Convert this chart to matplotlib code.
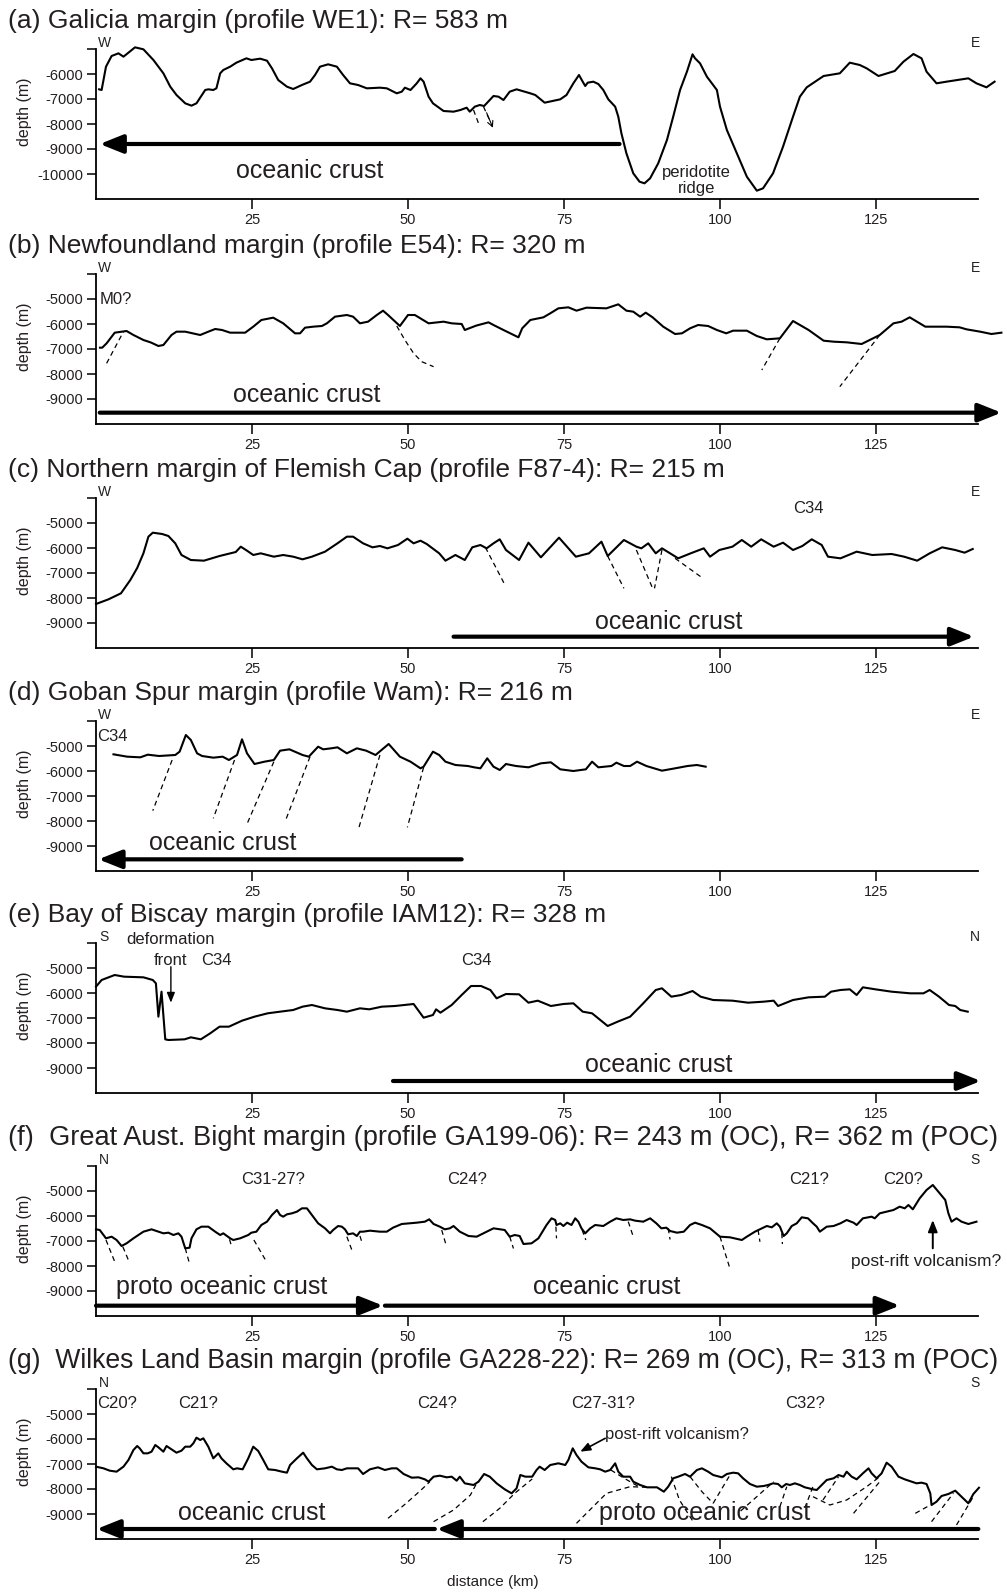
import matplotlib
matplotlib.use("Agg")
from matplotlib import pyplot as plt

plt.rcParams['font.family'] = ['Liberation Sans', 'DejaVu Sans']

# figure is laid out in pixels (1007 x 1593), 6.24 px per km, 25 px per 1000 m
W, H = 1007, 1593
PX_KM = 6.24
KM_MAX = 146.0
AXIS_END = 141.3
LEFT_PX = 96

xticks = [25, 50, 75, 100, 125]

# ---------------- profile data (distance km, depth m) ----------------
prof_a = [(0.5, -6613), (0.9, -6640), (1.6, -5707), (2.5, -5280), (3.6, -5173), (4.4, -5307), (5.2, -5147),
          (6.25, -4933), (7.6, -5013), (9.2, -5440), (10.8, -5973), (11.9, -6507), (12.9, -6840), (14.3, -7173),
          (15.3, -7267), (16.1, -7173), (17.5, -6640), (18, -6613), (18.8, -6640), (19.3, -6570), (19.9, -5973),
          (20.4, -5840), (21.5, -5707), (22.5, -5547), (24.1, -5373), (24.9, -5440), (26.3, -5387), (27.4, -5467),
          (28.2, -5773), (29.2, -6240), (30.6, -6507), (31.6, -6600), (33, -6440), (34.3, -6307), (35.1, -6040),
          (35.9, -5707), (37.2, -5613), (38.6, -5707), (39.6, -6040), (40.7, -6373), (42, -6440), (43.4, -6573),
          (45.5, -6547), (46.6, -6573), (48.2, -6773), (49, -6707), (49.5, -6547), (50.4, -6640), (51.4, -6373),
          (52, -6173), (52.5, -6307), (53.3, -6907), (54, -7173), (55.7, -7480), (57.3, -7507), (58.4, -7440),
          (59.4, -7347), (59.9, -7507), (60.7, -7307), (61.5, -7240), (62.2, -7280), (63.7, -6880), (64.5, -6907),
          (65.3, -7040), (66.3, -6707), (67.4, -6613), (69.6, -6773), (70.4, -6840), (71.9, -7147), (74.4, -7013),
          (75.4, -6840), (76.5, -6373), (77.4, -6040), (78, -6307), (78.4, -6480), (78.8, -6347), (79.7, -6307),
          (80.5, -6400), (81.3, -6640), (82.1, -7013), (83.2, -7307), (83.7, -7707), (84.2, -8373), (85, -9173),
          (86.1, -9973), (87.1, -10307), (87.9, -10373), (88.8, -10173), (90.1, -9573), (91.5, -8640), (92.5, -7707),
          (93.6, -6640), (94.7, -5907), (95.6, -5213), (96, -5373), (96.8, -5573), (97.9, -6107), (99.5, -6640),
          (100, -7307), (101.1, -8240), (102.7, -9173), (104.3, -10107), (105.9, -10667), (106.9, -10573),
          (108.5, -9973), (110.1, -8907), (111.7, -7707), (112.8, -6907), (113.9, -6533), (116.6, -6080),
          (119.2, -5973), (120.8, -5547), (122.4, -5640), (123.5, -5773), (125.4, -6080), (128, -5880),
          (129.4, -5507), (131, -5200), (132.3, -5373), (133.1, -5907), (134.7, -6373), (136.3, -6307),
          (139.8, -6173), (141.1, -6373), (142.7, -6533), (144, -6307)]

prof_b = [(0.64, -6947), (1.0, -6947), (1.7, -6773), (3.0, -6347), (4.9, -6280), (6.0, -6440), (7.6, -6640),
          (8.8, -6740), (10.0, -6880), (10.8, -6840), (12.1, -6440), (12.9, -6307), (14.3, -6307), (16.7, -6440),
          (18.0, -6307), (19.1, -6200), (20.2, -6240), (21.5, -6347), (23.9, -6347), (25.2, -6107), (26.5, -5840),
          (28.4, -5747), (30.0, -5973), (31.9, -6373), (32.7, -6373), (33.5, -6147), (34.8, -6107), (36.2, -6080),
          (37.0, -5973), (38.3, -5707), (40.2, -5640), (41.2, -5707), (42.3, -5973), (43.6, -5907), (45.0, -5640),
          (46.0, -5467), (46.8, -5640), (48.7, -6080), (50.0, -5640), (51.1, -5640), (53.3, -5973), (55.7, -5907),
          (57.0, -5973), (58.6, -6000), (59.1, -6240), (60.9, -6067), (62.9, -5933), (63.7, -6040), (65.3, -6240),
          (67.7, -6533), (68.3, -6173), (69.6, -5840), (71.7, -5733), (72.8, -5573), (74.1, -5373), (75.7, -5333),
          (77.0, -5467), (78.6, -5347), (81.8, -5373), (83.7, -5213), (85.0, -5467), (86.1, -5507), (87.2, -5707),
          (88.1, -5547), (89.2, -5733), (90.9, -6107), (92.8, -6400), (93.9, -6373), (95.2, -6173), (96.5, -6040),
          (98.1, -6080), (99.5, -6240), (101.0, -6373), (102.1, -6267), (104.3, -6267), (105.9, -6480),
          (107.5, -6613), (109.6, -6573), (111.7, -5880), (114.2, -6240), (116.6, -6667), (118.2, -6707),
          (120.3, -6733), (122.7, -6800), (125.6, -6440), (127.8, -5973), (129.1, -5907), (130.4, -5733),
          (132.9, -6107), (136.3, -6107), (138.4, -6133), (139.5, -6213), (141.7, -6307), (143.5, -6400),
          (145.1, -6347)]

prof_c = [(0, -8240), (2, -8053), (4, -7813), (5.5, -7280), (6.6, -6800), (7.6, -6213), (8.4, -5547), (9.1, -5387),
          (10.6, -5440), (11.6, -5520), (12.7, -5813), (13.7, -6280), (15.2, -6480), (17.3, -6507), (19.8, -6320),
          (22.4, -6160), (23.2, -5947), (24.2, -6107), (25.2, -6280), (26.4, -6213), (28.5, -6347), (30.0, -6280),
          (31.6, -6347), (33.1, -6453), (34.6, -6347), (36.7, -6147), (38.7, -5813), (40.2, -5547), (41.2, -5547),
          (42.8, -5813), (44.3, -5973), (45.5, -5920), (46.7, -6013), (48.4, -5880), (49.9, -5627), (50.9, -5813),
          (52.0, -5707), (53.0, -5840), (55.0, -6213), (56.0, -6507), (57.6, -6280), (59.1, -6480), (60.3, -5973),
          (61.6, -5880), (62.6, -6013), (63.7, -5813), (64.7, -5653), (65.7, -6080), (67.8, -6480), (69.3, -5787),
          (71.3, -6373), (74.2, -5587), (76.9, -6347), (79.0, -6213), (81.0, -5747), (82.0, -6320), (84.6, -5680),
          (86.6, -5947), (87.4, -6013), (88.5, -5813), (89.7, -6213), (90.7, -6013), (93.3, -6413), (95.3, -6213),
          (97.4, -6013), (98.4, -6347), (99.9, -6080), (102.0, -5947), (103.5, -5680), (105.0, -5947),
          (106.6, -5653), (108.6, -5947), (110.1, -5787), (111.7, -6080), (113.2, -5920), (114.7, -5653),
          (116.3, -5880), (117.3, -6347), (119.3, -6413), (121.9, -6147), (124.4, -6280), (127.5, -6240),
          (129.5, -6347), (131.6, -6507), (133.6, -6213), (135.6, -5973), (137.7, -6080), (139.2, -6187),
          (140.5, -6040)]

prof_d = [(2.8, -5333), (5.0, -5427), (7.1, -5453), (8.3, -5347), (10.1, -5400), (12.7, -5360), (13.4, -5227),
          (14.4, -4560), (15.2, -4760), (16.2, -5293), (17.0, -5400), (18.8, -5467), (20.3, -5427), (21.3, -5560),
          (22.6, -5360), (23.4, -4733), (24.2, -5293), (25.4, -5720), (27.0, -5627), (28.5, -5560), (29.5, -5187),
          (31.0, -5133), (33.1, -5360), (34.1, -5427), (34.6, -5293), (35.6, -5027), (36.4, -5133), (37.7, -5093),
          (38.7, -5053), (40.2, -5293), (41.8, -5093), (43.3, -5187), (44.8, -5360), (46.9, -4920), (48.7, -5427),
          (50.4, -5627), (52.0, -5893), (52.5, -5827), (54.0, -5227), (55.0, -5360), (56.0, -5627), (57.6, -5760),
          (59.6, -5800), (60.6, -5853), (61.6, -5893), (62.7, -5493), (63.7, -5827), (64.7, -5960), (65.7, -5720),
          (67.3, -5800), (69.3, -5853), (71.3, -5693), (72.9, -5653), (74.4, -5933), (76.5, -6000), (78.5, -5933),
          (79.5, -5627), (80.5, -5853), (82.6, -5800), (83.4, -5667), (84.6, -5800), (85.6, -5800), (86.7, -5627),
          (88.2, -5800), (90.7, -5987), (92.8, -5893), (94.8, -5800), (96.3, -5760), (97.7, -5827)]

prof_e = [(0, -5747), (0.9, -5480), (3.0, -5280), (4.5, -5347), (7.6, -5373), (9.1, -5480), (9.6, -5613),
          (10.0, -6947), (10.5, -5947), (11.1, -7853), (11.6, -7880), (14.2, -7853), (15.2, -7773), (16.8, -7853),
          (18.3, -7613), (19.8, -7347), (21.3, -7347), (23.4, -7107), (25.4, -6947), (27.5, -6813), (29.5, -6747),
          (31.6, -6680), (33.1, -6547), (34.6, -6480), (36.7, -6613), (38.7, -6680), (40.2, -6747), (42.3, -6613),
          (43.8, -6653), (45.8, -6547), (47.9, -6520), (49.4, -6480), (50.9, -6440), (52.5, -6987), (54.0, -6880),
          (54.5, -6653), (55.2, -6787), (57.0, -6480), (58.6, -6080), (60.1, -5720), (61.7, -5720), (63.2, -5880),
          (64.2, -6213), (65.7, -6040), (67.8, -6053), (69.3, -6387), (70.8, -6307), (72.9, -6520), (74.9, -6440),
          (76.5, -6413), (78.0, -6747), (79.5, -6813), (82.0, -7320), (83.6, -7147), (85.6, -6947), (87.7, -6413),
          (89.7, -5880), (90.7, -5813), (92.2, -6147), (93.8, -6080), (95.6, -5920), (96.9, -6147), (98.9, -6280),
          (102.0, -6307), (104.5, -6387), (107.0, -6347), (108.6, -6307), (109.3, -6520), (111.7, -6280),
          (114.2, -6173), (116.8, -6147), (117.8, -5947), (119.3, -5880), (120.8, -5853), (121.9, -6080),
          (122.9, -5773), (124.9, -5853), (127.5, -5947), (130.5, -6013), (132.6, -6013), (133.6, -5880),
          (135.1, -6147), (136.7, -6480), (137.7, -6520), (138.5, -6680), (139.7, -6747)]

prof_f = [(0, -6533), (0.6, -6560), (1.6, -6893), (2.5, -6827), (3.3, -6960), (4.1, -7200), (4.9, -7093),
          (6.0, -6893), (7.6, -6627), (8.9, -6533), (10.0, -6627), (10.8, -6693), (11.6, -6667), (12.4, -6760),
          (13.2, -6693), (13.7, -6827), (14.3, -7293), (15.0, -7267), (15.3, -6893), (16.1, -6533), (16.9, -6427),
          (18.0, -6427), (19.1, -6627), (19.9, -6760), (20.4, -6693), (21.5, -6893), (22.0, -6960), (23.1, -6893),
          (24.4, -6760), (24.9, -6667), (25.7, -6627), (26.5, -6360), (27.4, -6227), (28.2, -5960), (29.0, -5760),
          (29.5, -5960), (30.0, -6027), (30.6, -5933), (31.4, -5893), (32.2, -5827), (33.0, -5693), (33.8, -5693),
          (34.6, -5960), (35.6, -6293), (36.7, -6493), (37.5, -6693), (38.0, -6560), (38.8, -6400), (39.4, -6427),
          (39.9, -6533), (40.4, -6733), (41.2, -6693), (41.8, -6800), (42.3, -6627), (42.8, -6627), (43.9, -6587),
          (45.5, -6627), (46.6, -6627), (47.6, -6467), (49.0, -6320), (51.4, -6267), (52.7, -6227), (53.4, -6133),
          (54.1, -6320), (55.1, -6427), (55.9, -6533), (56.7, -6493), (57.3, -6400), (58.3, -6627), (59.7, -6800),
          (61.0, -6827), (62.6, -6627), (63.7, -6493), (65.5, -6560), (66.3, -6827), (67.1, -6760), (67.9, -6800),
          (68.5, -7120), (69.8, -7093), (70.9, -6893), (72.2, -6360), (73.0, -6093), (73.6, -6160), (73.8, -6360),
          (74.4, -6293), (74.9, -6400), (75.5, -6267), (76.2, -6360), (76.8, -6093), (77.3, -6227), (77.8, -6493),
          (78.4, -6693), (79.2, -6493), (80.0, -6360), (81.3, -6400), (82.4, -6227), (83.4, -6093), (84.5, -6160),
          (85.6, -6133), (86.4, -6187), (87.7, -6227), (88.8, -6093), (89.8, -6293), (90.6, -6493), (91.4, -6467),
          (92.0, -6600), (93.1, -6667), (94.2, -6627), (95.2, -6360), (96.0, -6267), (97.1, -6360), (98.4, -6493),
          (100.0, -6827), (101.6, -6853), (103.5, -6960), (104.3, -6827), (105.6, -6627), (106.7, -6493),
          (107.5, -6400), (108.3, -6453), (109.1, -6293), (109.6, -6427), (110.2, -6800), (110.7, -6693),
          (111.5, -6400), (112.3, -6293), (113.1, -6053), (114.1, -6093), (114.8, -6267), (115.5, -6427),
          (116.0, -6627), (117.1, -6427), (118.2, -6400), (119.3, -6293), (120.3, -6160), (121.4, -6267),
          (121.9, -6360), (122.9, -6093), (124.3, -6027), (124.8, -6093), (125.6, -5893), (126.7, -5827),
          (127.8, -5760), (128.8, -5627), (129.6, -5693), (130.2, -5560), (130.9, -5733), (132.0, -5293),
          (133.1, -4960), (134.1, -4760), (135.0, -5027), (136.1, -5360), (136.6, -5893), (137.1, -6227),
          (137.9, -6093), (138.7, -6227), (139.8, -6320), (141.1, -6227)]

prof_g = [(0, -7107), (1.2, -7173), (2.2, -7267), (3.3, -7307), (4.4, -7107), (5.2, -6840), (6.0, -6440),
          (6.6, -6280), (7.0, -6373), (7.6, -6573), (8.3, -6573), (8.9, -6507), (9.5, -6240), (10.0, -6333),
          (10.8, -6507), (11.3, -6280), (12.1, -6413), (12.9, -6547), (13.7, -6467), (14.3, -6307), (15.1, -6307),
          (15.6, -6173), (16.1, -5947), (16.7, -6040), (17.2, -5973), (18.0, -6307), (18.8, -6773), (19.6, -6573),
          (20.1, -6773), (20.9, -6973), (22.0, -7213), (22.6, -7173), (23.5, -7213), (24.4, -6773), (25.2, -6307),
          (26.0, -6480), (26.8, -6840), (27.6, -7213), (28.7, -7240), (29.8, -7307), (30.6, -7347), (31.1, -7040),
          (32.2, -6773), (33.2, -6547), (33.8, -6773), (34.6, -7040), (35.4, -7213), (36.7, -7173), (37.8, -7107),
          (38.6, -7213), (39.4, -7240), (40.2, -7173), (42.0, -7173), (42.8, -7400), (43.9, -7213), (45.2, -7133),
          (46.3, -7240), (47.4, -7173), (48.2, -7173), (49.3, -7400), (50.6, -7547), (51.7, -7533), (52.7, -7613),
          (53.3, -7707), (54.1, -7507), (55.1, -7467), (56.2, -7533), (57.0, -7507), (57.8, -7667), (58.3, -7507),
          (59.1, -7773), (60.5, -7840), (61.3, -7707), (62.2, -7400), (63.1, -7507), (64.2, -7773), (65.5, -8013),
          (66.6, -8173), (67.4, -7973), (68.0, -7440), (68.8, -7507), (69.9, -7507), (70.6, -7240), (71.1, -7107),
          (71.9, -7240), (72.8, -7040), (74.1, -6973), (75.2, -7040), (75.7, -6840), (76.4, -6373), (77.0, -6640),
          (77.8, -6907), (78.9, -7133), (80.0, -7173), (80.8, -7213), (81.6, -7307), (82.4, -7240), (83.2, -6973),
          (83.7, -7307), (84.5, -7507), (85.6, -7507), (86.1, -7707), (87.2, -7840), (88.3, -7933), (89.9, -7933),
          (91.0, -8107), (91.7, -7907), (92.5, -7573), (93.3, -7507), (94.4, -7400), (95.2, -7507), (96.3, -7240),
          (97.1, -7173), (98.1, -7307), (98.9, -7440), (100.3, -7533), (101.1, -7400), (102.1, -7347),
          (102.9, -7373), (103.7, -7573), (104.8, -7800), (105.9, -7907), (107.0, -7880), (107.7, -7840),
          (108.5, -7773), (109.3, -7800), (109.9, -7933), (110.6, -7800), (111.2, -7840), (112.0, -7773),
          (112.8, -7840), (113.6, -7933), (114.9, -8013), (115.5, -8040), (116.3, -7840), (117.1, -7640),
          (118.2, -7573), (119.0, -7440), (119.8, -7507), (120.3, -7307), (121.1, -7507), (121.9, -7613),
          (122.9, -7373), (123.8, -7173), (124.3, -7373), (125.1, -7573), (125.9, -7373), (126.7, -6947),
          (127.5, -7107), (128.6, -7507), (129.6, -7613), (130.7, -7707), (131.5, -7773), (132.3, -7747),
          (133.1, -7800), (133.7, -8173), (133.9, -8640), (134.7, -8507), (135.5, -8280), (136.6, -8200),
          (137.7, -8067), (138.7, -8307), (139.8, -8573), (140.6, -8200), (141.5, -7950)]

# dashed fault traces (km list, depth list)
faults_a = [([60.5, 61.3], [-7440, -7973]), ([62.1, 63.0], [-7307, -7800])]
faults_b = [([1.7, 4.4], [-7573, -6307]),
            ([48.2, 49.5, 50.9, 52.2, 54.1], [-6080, -6640, -7173, -7507, -7707]),
            ([109.6, 106.7], [-6573, -7840]), ([125.6, 119.2], [-6440, -8507])]
faults_c = [([62.4, 65.4], [-5973, -7413]), ([82.0, 84.6], [-6320, -7613]), ([86.6, 89.2], [-6080, -7613]),
            ([90.7, 89.5], [-6080, -7613]), ([92.8, 96.9], [-6413, -7147])]
faults_d = [([12.2, 9.1], [-5560, -7587]), ([22.2, 18.8], [-5560, -7893]), ([28.5, 24.2], [-5627, -8120]),
            ([34.3, 30.3], [-5427, -8027]), ([45.5, 42.1], [-5360, -8293]), ([52.5, 49.9], [-5853, -8253])]
faults_f = [([1.6, 3.0], [-6960, -7827]), ([4.3, 5.3], [-7230, -7827]), ([14.3, 15.0], [-7290, -7920]),
            ([21.4, 21.7], [-6933, -7200]), ([25.3, 27.1], [-6960, -7733]), ([40.2, 41.0], [-6827, -7360]),
            ([42.3, 42.7], [-6800, -7120]), ([55.4, 56.1], [-6560, -7160]), ([66.3, 66.9], [-6827, -7300]),
            ([73.7, 73.8], [-6427, -6893]), ([77.9, 78.5], [-6560, -6960]), ([85.3, 86.1], [-6227, -6827]),
            ([91.7, 92.0], [-6493, -6940]), ([100.0, 101.5], [-6827, -8027]), ([106.1, 106.4], [-6560, -7030]),
            ([109.9, 110.0], [-6690, -7120])]
faults_g = [([46.8, 49.7, 52.1, 53.5], [-9173, -8573, -8040, -7707]),
            ([54.1, 57.3, 60.0, 61.0], [-9307, -8840, -8240, -7773]),
            ([62.0, 64.7, 67.1, 69.9], [-9307, -8773, -8173, -7600]),
            ([77.0, 81.8, 85.6, 88.3], [-9373, -8173, -7907, -7933]),
            ([82.5, 84.5, 86.8], [-7240, -7550, -7880]),
            ([92.2, 93.5, 95.7], [-7507, -8440, -9307]),
            ([95.2, 97.1, 98.9], [-7507, -8107, -8573]),
            ([98.9, 101.6], [-8573, -7440]),
            ([103.3, 105.9, 108.6], [-8880, -8307, -7707]),
            ([109.6, 110.7], [-8707, -7907]),
            ([113.6, 114.9], [-8760, -7900]),
            ([114.9, 117.6, 120.3, 123.5, 125.6], [-8307, -8640, -8440, -7907, -7507]),
            ([121.4, 125.6], [-8973, -7707]),
            ([116.5, 119.0], [-8440, -7507]),
            ([131.3, 133.7], [-8973, -8640]),
            ([133.9, 137.4], [-9307, -8173]),
            ([137.9, 140.6], [-9440, -8307])]

# crust arrows: (tail km, tip km, depth m)
arrows_a = [(83.9, 0.6, -8800)]
arrows_b = [(0.6, 145.1, -9547)]
arrows_c = [(57.3, 140.7, -9547)]
arrows_d = [(58.6, 0.4, -9533)]
arrows_e = [(47.6, 141.8, -9520)]
arrows_f = [(0.0, 46.0, -9587), (46.3, 128.8, -9587)]
arrows_g = [(54.3, 0.1, -9600), (141.4, 54.6, -9600)]

titles = ["(a) Galicia margin (profile WE1): R= 583 m",
          "(b) Newfoundland margin (profile E54): R= 320 m",
          "(c) Northern margin of Flemish Cap (profile F87-4): R= 215 m",
          "(d) Goban Spur margin (profile Wam): R= 216 m",
          "(e) Bay of Biscay margin (profile IAM12): R= 328 m",
          "(f)  Great Aust. Bight margin (profile GA199-06): R= 243 m (OC), R= 362 m (POC)",
          "(g)  Wilkes Land Basin margin (profile GA228-22): R= 269 m (OC), R= 313 m (POC)"]
title_sizes = [19, 19, 19, 19, 19, 19.6, 19.2]
ends = [("W", "E"), ("W", "E"), ("W", "E"), ("W", "E"), ("S", "N"), ("N", "S"), ("N", "S")]
panel_tops = [49, 274, 498, 721, 943, 1166, 1389]

TXT = "#231f20"
fig = plt.figure(figsize=(W / 100, H / 100), dpi=100)


def fig_text(px, py, s, **kw):
    fig.text(px / W, 1 - py / H, s, **kw)


def make_panel(i, prof, faults, arrows, ytop):
    top = panel_tops[i]
    ax = fig.add_axes([LEFT_PX / W, 1 - (top + 150) / H, KM_MAX * PX_KM / W, 150 / H])
    ax.set_xlim(0, KM_MAX)
    ax.set_ylim(ytop - 6000, ytop)
    for s in ["top", "right"]:
        ax.spines[s].set_visible(False)
    ax.spines["bottom"].set_bounds(0, AXIS_END)
    for s in ["left", "bottom"]:
        ax.spines[s].set_linewidth(1.3)
    yt = list(range(ytop, ytop - 6000, -1000))
    ax.set_yticks(yt)
    ax.set_yticklabels([""] + [str(v) for v in yt[1:]])
    ax.set_xticks(xticks)
    ax.set_xticklabels([str(v) for v in xticks])
    ax.tick_params(axis="y", direction="out", length=6.5, width=1.1, pad=2.5, labelsize=10.5, labelcolor=TXT)
    ax.tick_params(axis="x", direction="out", length=7, width=1.1, pad=3, labelsize=10.5, labelcolor=TXT)
    xs = [p[0] for p in prof]
    ds = [p[1] for p in prof]
    ax.plot(xs, ds, color="black", lw=1.5, clip_on=False, solid_joinstyle="round")
    for fx, fd in faults:
        ax.plot(fx, fd, color="black", lw=0.9, ls=(0, (4, 3)), clip_on=False)
    for tail, tip, d in arrows:
        ax.annotate("", xy=(tip, d), xytext=(tail, d), annotation_clip=False,
                    arrowprops=dict(arrowstyle="-|>,head_length=0.7,head_width=0.28", lw=3.0, color="black",
                                    mutation_scale=20, shrinkA=0, shrinkB=0))
    # labels around the panel
    fig_text(8, top - 28, titles[i], fontsize=title_sizes[i], va="center", ha="left", color=TXT)
    fig_text(104, top - 6, ends[i][0], fontsize=10, va="center", ha="center", color=TXT)
    fig_text(975, top - 6, ends[i][1], fontsize=10, va="center", ha="center", color=TXT)
    fig_text(25, top + 63, "depth (m)", fontsize=11.5, va="center", ha="center", rotation=90, color=TXT)
    return ax


BIG = 18
MID = 12

ax = make_panel(0, prof_a, faults_a, arrows_a, -5000)
ax.annotate("", xy=(63.6, -8150), xytext=(62.6, -7550), annotation_clip=False,
            arrowprops=dict(arrowstyle="->", lw=0.8, color="black", shrinkA=0, shrinkB=0))
ax.text(34.2, -9880, "oceanic crust", fontsize=BIG, ha="center", va="center", color=TXT)
ax.text(96.2, -10250, "peridotite\nridge", fontsize=MID, ha="center", va="center", color=TXT,
        linespacing=1.05)

ax = make_panel(1, prof_b, faults_b, arrows_b, -4000)
ax.text(0.6, -5000, "M0?", fontsize=MID, ha="left", va="center", color=TXT)
ax.text(33.8, -8840, "oceanic crust", fontsize=BIG, ha="center", va="center", color=TXT)

ax = make_panel(2, prof_c, faults_c, arrows_c, -4000)
ax.text(114.2, -4413, "C34", fontsize=MID, ha="center", va="center", color=TXT)
ax.text(91.8, -8947, "oceanic crust", fontsize=BIG, ha="center", va="center", color=TXT)

ax = make_panel(3, prof_d, faults_d, arrows_d, -4000)
ax.text(0.2, -4600, "C34", fontsize=MID, ha="left", va="center", color=TXT)
ax.text(20.3, -8867, "oceanic crust", fontsize=BIG, ha="center", va="center", color=TXT)

ax = make_panel(4, prof_e, [], arrows_e, -4000)
ax.text(12.0, -3850, "deformation", fontsize=MID, ha="center", va="center", color=TXT)
ax.text(12.0, -4680, "front", fontsize=MID, ha="center", va="center", color=TXT)
ax.annotate("", xy=(12.0, -6387), xytext=(12.0, -4950), annotation_clip=False,
            arrowprops=dict(arrowstyle="-|>,head_length=0.5,head_width=0.2", lw=1.0, color="black",
                            mutation_scale=12, shrinkA=0, shrinkB=0))
ax.text(19.3, -4680, "C34", fontsize=MID, ha="center", va="center", color=TXT)
ax.text(61.0, -4680, "C34", fontsize=MID, ha="center", va="center", color=TXT)
ax.text(90.2, -8880, "oceanic crust", fontsize=BIG, ha="center", va="center", color=TXT)

ax = make_panel(5, prof_f, faults_f, arrows_f, -4000)
for x, s in [(28.4, "C31-27?"), (59.4, "C24?"), (114.2, "C21?"), (129.4, "C20?")]:
    ax.text(x, -4560, s, fontsize=MID, ha="center", va="center", color=TXT)
ax.annotate("", xy=(134.1, -6160), xytext=(134.1, -7293), annotation_clip=False,
            arrowprops=dict(arrowstyle="-|>,head_length=0.5,head_width=0.2", lw=1.4, color="black",
                            mutation_scale=14, shrinkA=0, shrinkB=0))
ax.text(133.0, -7827, "post-rift volcanism?", fontsize=12.5, ha="center", va="center", color=TXT)
ax.text(20.1, -8827, "proto oceanic crust", fontsize=BIG, ha="center", va="center", color=TXT)
ax.text(81.8, -8827, "oceanic crust", fontsize=BIG, ha="center", va="center", color=TXT)

ax = make_panel(6, prof_g, faults_g, arrows_g, -4000)
ax.text(0.2, -4600, "C20?", fontsize=MID, ha="left", va="center", color=TXT)
for x, s in [(16.4, "C21?"), (54.6, "C24?"), (81.3, "C27-31?"), (113.6, "C32?")]:
    ax.text(x, -4600, s, fontsize=MID, ha="center", va="center", color=TXT)
ax.annotate("", xy=(77.6, -6507), xytext=(81.6, -5973), annotation_clip=False,
            arrowprops=dict(arrowstyle="-|>,head_length=0.5,head_width=0.2", lw=1.2, color="black",
                            mutation_scale=12, shrinkA=0, shrinkB=0))
ax.text(93.1, -5840, "post-rift volcanism?", fontsize=12, ha="center", va="center", color=TXT)
ax.text(24.9, -8947, "oceanic crust", fontsize=BIG, ha="center", va="center", color=TXT)
ax.text(97.6, -8947, "proto oceanic crust", fontsize=BIG, ha="center", va="center", color=TXT)

fig_text(493, 1582, "distance (km)", fontsize=11, ha="center", va="center", color=TXT)

fig.savefig("out.png", dpi=100)
